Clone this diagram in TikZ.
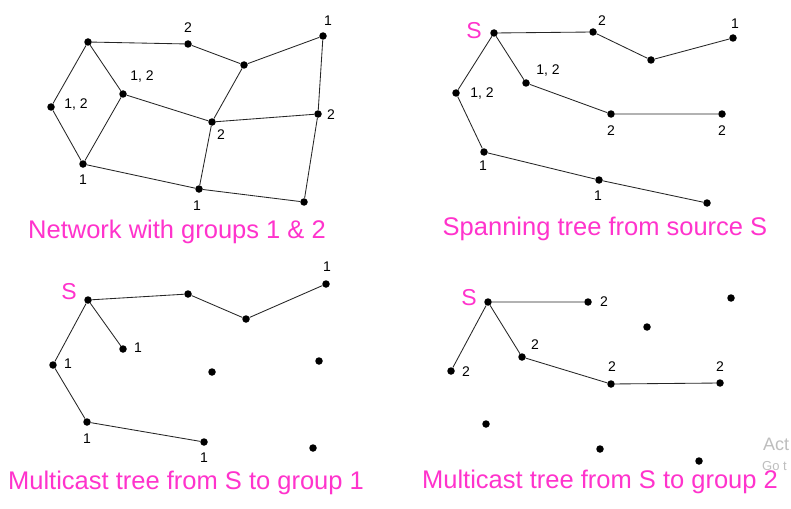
\documentclass[tikz,border=0pt]{standalone}
\usepackage{fontspec}
\setmainfont{Liberation Sans}
\definecolor{mag}{RGB}{255,51,204}
\definecolor{wm}{RGB}{190,190,190}
\tikzset{
  dot/.style={circle,fill=black,inner sep=0pt,minimum size=7.5pt},
  lab/.style={font=\fontsize{14}{14}\selectfont,inner sep=0pt},
  ttl/.style={font=\fontsize{25.5}{25.5}\selectfont,text=mag,anchor=base,inner sep=0pt},
  src/.style={font=\fontsize{23}{23}\selectfont,text=mag,inner sep=0pt},
  edge/.style={draw=black!85,line width=0.85pt}
}
\begin{document}
\begin{tikzpicture}[x=1pt,y=-1pt]
\useasboundingbox[fill=white] (0,0) rectangle (791,508);
% ---------- Panel 1 ----------
\node[dot] (A) at (88,42) {};
\node[dot] (B) at (188,44) {};
\node[dot] (C) at (244,65) {};
\node[dot] (D) at (323,36) {};
\node[dot] (E) at (51,107) {};
\node[dot] (F) at (123,94) {};
\node[dot] (G) at (212,122) {};
\node[dot] (H) at (318,114) {};
\node[dot] (I) at (83,164) {};
\node[dot] (J) at (199,189) {};
\node[dot] (K) at (304,202) {};
\draw[edge] (A)--(B) (B)--(C) (C)--(D) (A)--(E) (A)--(F) (E)--(I) (F)--(I)
  (F)--(G) (C)--(G) (G)--(H) (D)--(H) (G)--(J) (I)--(J) (J)--(K) (H)--(K);
\node[lab] (lB) at (188,28) {2};
\node[lab] (lD) at (328,21) {1};
\node[lab] (lF) at (142,77) {1, 2};
\node[lab] (lE) at (76,105) {1, 2};
\node[lab] (lG) at (221,135) {2};
\node[lab] (lH) at (331,115) {2};
\node[lab] (lI) at (83,180) {1};
\node[lab] (lJ) at (197,206) {1};
\node[ttl] (t1) at (177,238) {Network with groups 1 \& 2};
% ---------- Panel 2 ----------
\node[dot] (S2) at (494,33) {};
\node[dot] (a2) at (593,32) {};
\node[dot] (b2) at (651,60) {};
\node[dot] (c2) at (733,38) {};
\node[dot] (d2) at (456,93) {};
\node[dot] (e2) at (526,83) {};
\node[dot] (f2) at (611,114) {};
\node[dot] (g2) at (722,114) {};
\node[dot] (h2) at (484,152) {};
\node[dot] (i2) at (599,180) {};
\node[dot] (j2) at (707,203) {};
\draw[edge] (S2)--(a2) (a2)--(b2) (b2)--(c2) (S2)--(d2) (S2)--(e2) (e2)--(f2)
  (f2)--(g2) (d2)--(h2) (h2)--(i2) (i2)--(j2);
\node[src] (s2l) at (474,31) {S};
\node[lab] (la2) at (602,21) {2};
\node[lab] (lc2) at (735,24) {1};
\node[lab] (le2) at (548,71) {1, 2};
\node[lab] (ld2) at (482,94) {1, 2};
\node[lab] (lf2) at (611,131) {2};
\node[lab] (lg2) at (722,131) {2};
\node[lab] (lh2) at (483,166) {1};
\node[lab] (li2) at (598,196) {1};
\node[ttl] (t2) at (605,235) {Spanning tree from source S};
% ---------- Panel 3 ----------
\node[dot] (S3) at (88,300) {};
\node[dot] (a3) at (188,294) {};
\node[dot] (b3) at (246,319) {};
\node[dot] (c3) at (326,284) {};
\node[dot] (d3) at (123,349) {};
\node[dot] (e3) at (53,365) {};
\node[dot] (f3) at (212,372) {};
\node[dot] (g3) at (319,361) {};
\node[dot] (h3) at (87,422) {};
\node[dot] (i3) at (204,442) {};
\node[dot] (j3) at (313,448) {};
\draw[edge] (S3)--(a3) (a3)--(b3) (b3)--(c3) (S3)--(d3) (S3)--(e3) (e3)--(h3) (h3)--(i3);
\node[src] (s3l) at (69,292) {S};
\node[lab] (lc3) at (327,267) {1};
\node[lab] (ld3) at (138,348) {1};
\node[lab] (le3) at (68,364) {1};
\node[lab] (lh3) at (87,439) {1};
\node[lab] (li3) at (204,458) {1};
\node[ttl] (t3) at (186,489) {Multicast tree from S to group 1};
% ---------- Panel 4 ----------
\node[dot] (S4) at (488,302) {};
\node[dot] (a4) at (588,302) {};
\node[dot] (b4) at (731,298) {};
\node[dot] (c4) at (647,327) {};
\node[dot] (d4) at (522,357) {};
\node[dot] (e4) at (451,371) {};
\node[dot] (f4) at (611,384) {};
\node[dot] (g4) at (720,383) {};
\node[dot] (h4) at (486,424) {};
\node[dot] (i4) at (600,449) {};
\node[dot] (j4) at (699,461) {};
\draw[edge] (S4)--(a4) (S4)--(e4) (S4)--(d4) (d4)--(f4) (f4)--(g4);
\node[src] (s4l) at (469,298) {S};
\node[lab] (la4) at (604,302) {2};
\node[lab] (ld4) at (535,345) {2};
\node[lab] (le4) at (466,372) {2};
\node[lab] (lf4) at (612,367) {2};
\node[lab] (lg4) at (720,367) {2};
% ---------- watermark (behind the last title) ----------
\begin{scope}
\clip (0,0) rectangle (791,508);
\node[anchor=base west,inner sep=0pt,text=wm,font=\fontsize{18}{18}\selectfont] (wm1) at (763,450) {Act};
\node[anchor=base west,inner sep=0pt,text=wm,font=\fontsize{13}{13}\selectfont] (wm2) at (762,470) {Go t};
\end{scope}
\node[ttl] (t4) at (600,488) {Multicast tree from S to group 2};
\end{tikzpicture}
\end{document}
